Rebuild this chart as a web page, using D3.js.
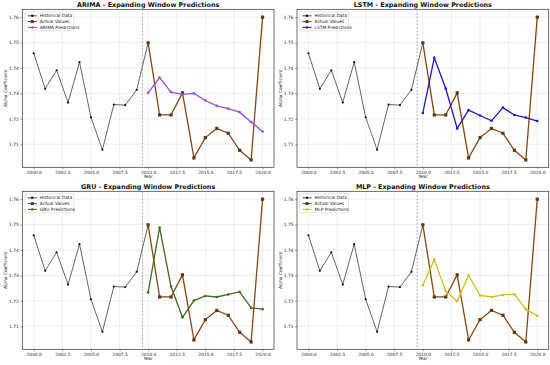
<!DOCTYPE html>
<html><head><meta charset="utf-8">
<script src="https://cdn.jsdelivr.net/npm/d3@7"></script>
<style>
body{margin:0;background:#fff;}
svg{display:block;font-family:"DejaVu Sans",sans-serif;}
</style></head>
<body><svg id="chart" width="550" height="365"></svg>
<script>
const histYears = [2000,2001,2002,2003,2004,2005,2006,2007,2008,2009,2010];
const histValues = [1.7458,1.7318,1.7391,1.7264,1.7423,1.7206,1.7078,1.7256,1.7254,1.7314,1.7499];
const testYears = [2010,2011,2012,2013,2014,2015,2016,2017,2018,2019,2020];
const actualValues = [1.7499,1.7215,1.7215,1.7302,1.7046,1.7126,1.7162,1.7143,1.7076,1.7038,1.7600];
const arimaPred = [1.7302,1.7362,1.7305,1.7296,1.7300,1.7272,1.7251,1.7240,1.7226,1.7187,1.7150];
const lstmPred = [1.7223,1.7440,1.7319,1.7162,1.7234,1.7213,1.7192,1.7244,1.7215,1.7205,1.7191];
const gruPred = [1.7233,1.7488,1.7256,1.7135,1.7201,1.7219,1.7215,1.7225,1.7235,1.7172,1.7167];
const mlpPred = [1.7261,1.7362,1.7238,1.7198,1.7300,1.7221,1.7215,1.7223,1.7226,1.7167,1.7141];
const xTicks = [2000,2002.5,2005,2007.5,2010,2012.5,2015,2017.5,2020];
const yTicks = [1.71,1.72,1.73,1.74,1.75,1.76];
const models = [
  {name:"ARIMA", pred:arimaPred, color:"#9b4fd6"},
  {name:"LSTM", pred:lstmPred, color:"#1a1acc"},
  {name:"GRU", pred:gruPred, color:"#3f6b1e"},
  {name:"MLP", pred:mlpPred, color:"#c9c21a"}
];

const svg = d3.select("#chart");
const panels = [
  {x0:22.3, y0:9.3},
  {x0:297, y0:9.3},
  {x0:22.3, y0:191.3},
  {x0:297, y0:191.3}
];
const W = 251.7, H = 158;

models.forEach((m,i)=>{
  const p = panels[i];
  const g = svg.append("g").attr("transform",`translate(${p.x0},${p.y0})`);
  const x = d3.scaleLinear().domain([1999,2021]).range([0,W]);
  const y = d3.scaleLinear().domain([1.7009,1.7631]).range([H,0]);

  // grid
  g.append("g").selectAll("line.gx").data(xTicks).join("line")
    .attr("x1",d=>x(d)).attr("x2",d=>x(d)).attr("y1",0).attr("y2",H)
    .attr("stroke","#e3e3e3").attr("stroke-width",0.6);
  g.append("g").selectAll("line.gy").data(yTicks).join("line")
    .attr("y1",d=>y(d)).attr("y2",d=>y(d)).attr("x1",0).attr("x2",W)
    .attr("stroke","#e3e3e3").attr("stroke-width",0.6);

  // axes
  const xa = g.append("g").attr("transform",`translate(0,${H})`)
    .call(d3.axisBottom(x).tickValues(xTicks).tickFormat(d3.format(".1f")).tickSize(2).tickPadding(2));
  const ya = g.append("g")
    .call(d3.axisLeft(y).tickValues(yTicks).tickFormat(d3.format(".2f")).tickSize(2).tickPadding(1.5));
  [xa,ya].forEach(a=>{
    a.select(".domain").remove();
    a.selectAll("text").attr("font-size",4.4).attr("fill","#222").attr("font-family","DejaVu Sans");
    a.selectAll("line").attr("stroke","#444").attr("stroke-width",0.5);
  });
  g.append("rect").attr("x",0).attr("y",0).attr("width",W).attr("height",H)
    .attr("fill","none").attr("stroke","#333").attr("stroke-width",0.7);

  // split line
  g.append("line").attr("x1",x(2009.5)).attr("x2",x(2009.5)).attr("y1",0).attr("y2",H)
    .attr("stroke","#999").attr("stroke-width",0.8).attr("stroke-dasharray","2,1.5");

  const line = d3.line().x(d=>x(d[0])).y(d=>y(d[1]));
  const hist = histYears.map((d,k)=>[d,histValues[k]]);
  const act = testYears.map((d,k)=>[d,actualValues[k]]);
  const pr = testYears.map((d,k)=>[d,m.pred[k]]);

  g.append("path").attr("d",line(hist)).attr("fill","none").attr("stroke","#555").attr("stroke-width",0.9);
  g.selectAll("circle.h").data(hist.slice(0,10)).join("circle")
    .attr("cx",d=>x(d[0])).attr("cy",d=>y(d[1])).attr("r",1.1).attr("fill","#111");

  g.append("path").attr("d",line(act)).attr("fill","none").attr("stroke","#8b4513").attr("stroke-width",1.3);
  g.selectAll("rect.a").data(act).join("rect")
    .attr("x",d=>x(d[0])-1.6).attr("y",d=>y(d[1])-1.6).attr("width",3.2).attr("height",3.2)
    .attr("fill","#5a3a14");

  g.append("path").attr("d",line(pr)).attr("fill","none").attr("stroke",m.color).attr("stroke-width",1.3);
  g.selectAll("circle.p").data(pr).join("circle")
    .attr("cx",d=>x(d[0])).attr("cy",d=>y(d[1])).attr("r",1.3).attr("fill",m.color);

  // title & labels
  g.append("text").attr("x",W/2).attr("y",-2.5).attr("text-anchor","middle")
    .attr("font-size",6.4).attr("font-weight","bold").attr("fill","#111")
    .text(`${m.name} - Expanding Window Predictions`);
  g.append("text").attr("x",W/2).attr("y",H+11).attr("text-anchor","middle")
    .attr("font-size",4.4).attr("fill","#222").text("Year");
  g.append("text").attr("transform",`translate(-15.5,${H/2}) rotate(-90)`).attr("text-anchor","middle")
    .attr("font-size",4.4).attr("fill","#222").text("Alpha Coefficient");

  // legend
  const lg = g.append("g").attr("transform","translate(2.5,2.5)");
  lg.append("rect").attr("width",49).attr("height",19).attr("rx",1)
    .attr("fill","#fff").attr("fill-opacity",0.85).attr("stroke","#ccc").attr("stroke-width",0.5);
  const items = [
    {label:"Historical Data", color:"#555", mk:"#111", sq:false},
    {label:"Actual Values", color:"#8b4513", mk:"#5a3a14", sq:true},
    {label:`${m.name} Predictions`, color:m.color, mk:m.color, sq:false}
  ];
  items.forEach((it,k)=>{
    const yy = 4 + k*5.8;
    lg.append("line").attr("x1",3).attr("x2",12).attr("y1",yy).attr("y2",yy)
      .attr("stroke",it.color).attr("stroke-width",1.1);
    if(it.sq) lg.append("rect").attr("x",6).attr("y",yy-1.5).attr("width",3).attr("height",3).attr("fill",it.mk);
    else lg.append("circle").attr("cx",7.5).attr("cy",yy).attr("r",1.2).attr("fill",it.mk);
    lg.append("text").attr("x",15).attr("y",yy+1.6).attr("font-size",4.4).attr("fill","#222").text(it.label);
  });
});
</script>
</body></html>
